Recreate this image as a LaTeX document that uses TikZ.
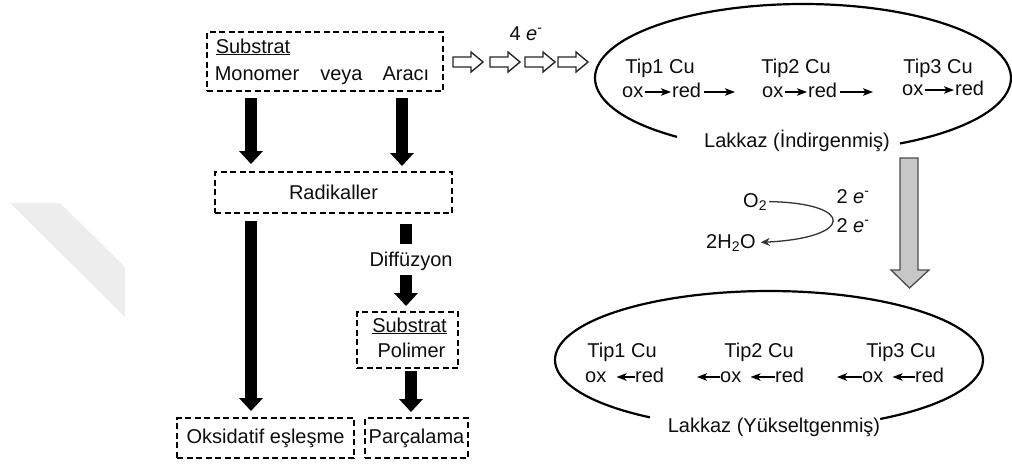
\documentclass[tikz,border=0pt]{standalone}
\usepackage{fontspec}
\setmainfont{Liberation Sans}
\usetikzlibrary{arrows.meta,calc}
\begin{document}
\begin{tikzpicture}[x=1pt,y=-1pt,
  every node/.style={font=\fontsize{20}{23}\selectfont, inner sep=0pt, text=black!95},
  dbox/.style={draw, line width=2pt, dash pattern=on 6pt off 3.5pt},
  fat/.style={line width=12pt, -{Triangle[width=24pt,length=13pt,line width=0pt]}},
  fatbar/.style={line width=12pt},
  small/.style={line width=1.5pt, -{Stealth[length=10pt,width=7.5pt,inset=2.5pt]}},
  curv/.style={line width=1.3pt, draw=black!80, -{Stealth[length=9pt,width=8pt,inset=3pt]}},
  lbl/.style={anchor=base},
  rowtxt/.style={anchor=base west, text height=10pt, text depth=0pt},
  hollow/.style={line width=1.4pt, draw=black!85, line join=miter},
  ellip/.style={line width=2.2pt},
  ]
\useasboundingbox (0,0) rectangle (1012,466);
% faint watermark shape
\fill[black!7] (10,203) -- (60,203) -- (125,267) -- (125,317) -- cycle;

% ---------- left flow ----------
\node[dbox, minimum width=236pt, minimum height=59pt] (top) at (325,61.5) {};
\node[lbl] (s1) at (253,53) {\underline{Substrat}};
\node[lbl] (mva) at (322,80) {Monomer\hspace{21pt}veya\hspace{20pt}Aracı};
\node[dbox, minimum width=237pt, minimum height=41pt] (rad) at (333.5,192.5) {Radikaller};
\node[lbl] (diff) at (411,266) {Diffüzyon};
\node[dbox, minimum width=101pt, minimum height=56pt] (sp) at (407.5,340) {};
\node[lbl] (s2) at (409.5,332) {\underline{Substrat}};
\node[lbl] (pol) at (411.5,357) {Polimer};
\node[dbox, minimum width=177pt, minimum height=40pt] (oks) at (265.5,438) {Oksidatif eşleşme};
\node[dbox, minimum width=103pt, minimum height=40pt] (par) at (416.5,438) {Parçalama};

\coordinate (cA) at (251,0);
\coordinate (cB) at (402,0);
\coordinate (cC) at (406,0);
\coordinate (cD) at (411,0);

\draw[fat, shorten <=6pt, shorten >=7pt] (top.south -| cA) -- (rad.north -| cA);
\draw[fat, shorten <=6pt, shorten >=5pt] (top.south -| cB) -- (rad.north -| cB);
\draw[fat, shorten <=7pt, shorten >=6pt] (rad.south -| cA) -- (oks.north -| cA);
\draw[fatbar, shorten <=10pt, shorten >=7pt] (rad.south -| cC) -- (diff.north -| cC);
\draw[fat, shorten <=5pt, shorten >=5pt] (diff.south -| cC) -- (sp.north -| cC);
\draw[fat, shorten <=2pt, shorten >=5pt] (sp.south -| cD) -- (par.north -| cD);

% ---------- hollow arrows ----------
\foreach \x in {453,490,525,558}
  \draw[hollow] (\x,57) -- (\x+18,57) -- (\x+18,52) -- (\x+30,62) -- (\x+18,72) -- (\x+18,67) -- (\x,67) -- cycle;
\node[lbl] (fe) at (526,40) {4 \textit{e}\textsuperscript{-}};

% ---------- upper ellipse ----------
\coordinate (E1) at (803,78);
\draw[ellip] ($(E1)+(127.3:208 and 74)$) arc[start angle=127.3, end angle=422.2, x radius=208, y radius=74];
\node[lbl] (lk1) at (797,147) {Lakkaz (İndirgenmiş)};

\node[lbl] (u1) at (660,73) {Tip1 Cu};
\node[lbl] (u2) at (796,73) {Tip2 Cu};
\node[lbl] (u3) at (938,73) {Tip3 Cu};

\node[rowtxt] (uo1) at (622,97) {ox};
\node[rowtxt] (ur1) at (672,97) {red};
\coordinate (ue1) at (735,92);
\node[rowtxt] (uo2) at (762,97) {ox};
\node[rowtxt] (ur2) at (808,97) {red};
\coordinate (ue2) at (873,92);
\node[rowtxt] (uo3) at (902,95) {ox};
\node[rowtxt] (ur3) at (955,95) {red};

\draw[small, shorten <=1pt, shorten >=1pt] (uo1.east) -- (ur1.west);
\draw[small, shorten <=3pt] (ur1.east) -- (ue1);
\draw[small, shorten <=1pt, shorten >=1pt] (uo2.east) -- (ur2.west);
\draw[small, shorten <=3pt] (ur2.east) -- (ue2);
\draw[small, shorten <=1pt, shorten >=1pt] (uo3.east) -- (ur3.west);

% ---------- O2 / H2O ----------
\node[anchor=base west] (o2) at (743,207) {O\textsubscript{2}};
\node[anchor=base west] (h2o) at (706,248) {2H\textsubscript{2}O};
\draw[curv, shorten <=2pt, shorten >=5pt] (o2.east) .. controls (855,203) and (855,238) .. (h2o.east);
\node[lbl] (e2a) at (853,203) {2 \textit{e}\textsuperscript{-}};
\node[lbl] (e2b) at (853,232) {2 \textit{e}\textsuperscript{-}};

% ---------- gray arrow ----------
\draw[line width=1.3pt, draw=black!70, fill=black!22, line join=miter]
  (900,158) -- (918,158) -- (918,270) -- (929,270) -- (909.5,288) -- (891,270) -- (900,270) -- cycle;

% ---------- lower ellipse ----------
\coordinate (E2) at (769,360);
\draw[ellip] ($(E2)+(123.8:214 and 69)$) arc[start angle=123.8, end angle=418.7, x radius=214, y radius=69];
\node[lbl] (lk2) at (774,432) {Lakkaz (Yükseltgenmiş)};

\node[lbl] (l1) at (622,357) {Tip1 Cu};
\node[lbl] (l2) at (759,357) {Tip2 Cu};
\node[lbl] (l3) at (901,357) {Tip3 Cu};

\node[rowtxt] (lo1) at (585,382) {ox};
\node[rowtxt] (lr1) at (635,382) {red};
\node[rowtxt] (lo2) at (720,382) {ox};
\node[rowtxt] (lr2) at (775,382) {red};
\coordinate (le2) at (697,377);
\node[rowtxt] (lo3) at (862,382) {ox};
\node[rowtxt] (lr3) at (915,382) {red};
\coordinate (le3) at (837,377);

\draw[small, shorten >=10pt] (lr1.west) -- (lo1.east);
\draw[small, shorten >=9pt] (lr2.west) -- (lo2.east);
\draw[small] (lo2.west) -- (le2);
\draw[small, shorten >=9pt] (lr3.west) -- (lo3.east);
\draw[small] (lo3.west) -- (le3);
\end{tikzpicture}
\end{document}
